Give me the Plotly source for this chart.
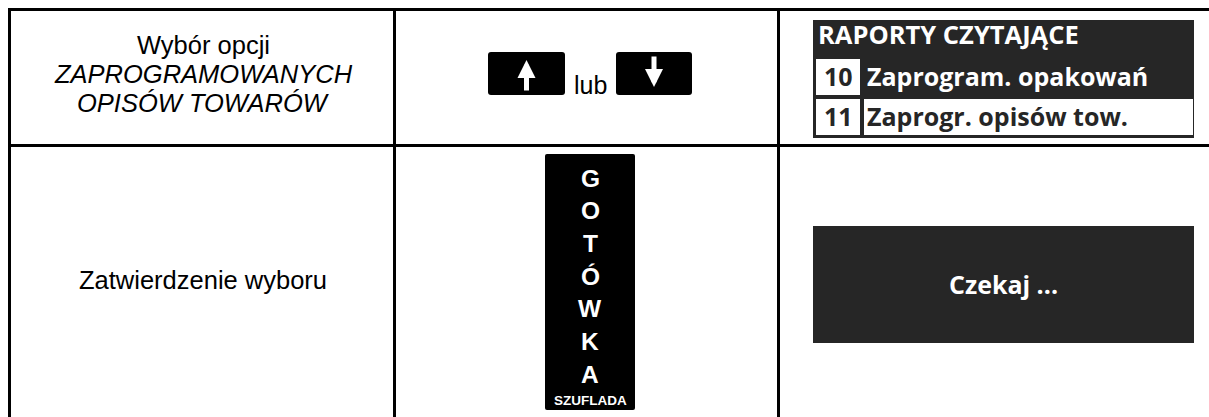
import plotly.graph_objects as go

W, H = 1209, 417

# ---- content -------------------------------------------------------------
step1_lines = ["Wybór opcji", "ZAPROGRAMOWANYCH", "OPISÓW TOWARÓW"]
step1_italic = [False, True, True]
step2_label = "Zatwierdzenie wyboru"
key_connector = "lub"
key_arrows = ["up", "down"]
cash_letters = ["G", "O", "T", "Ó", "W", "K", "A"]
cash_caption = "SZUFLADA"
lcd_title = "RAPORTY CZYTAJĄCE"
lcd_numbers = ["10", "11"]
lcd_items = ["Zaprogram. opakowań", "Zaprogr. opisów tow."]
lcd_selected = [False, True]
lcd_wait = "Czekaj ..."

# ---- layout geometry (pixels) -------------------------------------------
COLS = [9.5, 394.5, 778.5]
ROWS = [9.5, 145.5]
LINE_W = 3
LCD_BG = "#262626"
BODY_FONT = "Liberation Sans, Arial, sans-serif"
NARROW_FONT = "Liberation Sans Narrow, Arial Narrow, Liberation Sans, sans-serif"
LCD_FONT = "Open Sans, Noto Sans, sans-serif"

shapes = []
annotations = []


def rrect(x0, y0, x1, y1, r, color):
    path = (f"M{x0+r},{y0} L{x1-r},{y0} Q{x1},{y0} {x1},{y0+r} "
            f"L{x1},{y1-r} Q{x1},{y1} {x1-r},{y1} L{x0+r},{y1} "
            f"Q{x0},{y1} {x0},{y1-r} L{x0},{y0+r} Q{x0},{y0} {x0+r},{y0} Z")
    shapes.append(dict(type="path", path=path, xref="x", yref="y",
                       fillcolor=color, line=dict(width=0), layer="above"))


def rect(x0, y0, x1, y1, color):
    shapes.append(dict(type="rect", x0=x0, y0=y0, x1=x1, y1=y1, xref="x", yref="y",
                       fillcolor=color, line=dict(width=0), layer="above"))


def text(x, y, s, size, color="#000", family=BODY_FONT, xanchor="center", bold=False, italic=False):
    if bold:
        s = f"<b>{s}</b>"
    if italic:
        s = f"<i>{s}</i>"
    annotations.append(dict(x=x, y=y, xref="x", yref="y", text=s, showarrow=False,
                            xanchor=xanchor, yanchor="middle",
                            font=dict(size=size, color=color, family=family)))


# table grid
for cx in COLS:
    shapes.append(dict(type="line", x0=cx, x1=cx, y0=ROWS[0] - 1.5, y1=H + 5, xref="x", yref="y",
                       line=dict(color="#000", width=LINE_W), layer="above"))
for ry in ROWS:
    shapes.append(dict(type="line", x0=COLS[0] - 1.5, x1=W + 5, y0=ry, y1=ry, xref="x", yref="y",
                       line=dict(color="#000", width=LINE_W), layer="above"))

# column 1 texts
c1 = (COLS[0] + COLS[1]) / 2 + 1
for i, (ln, it) in enumerate(zip(step1_lines, step1_italic)):
    text(c1, 45 + i * 29, ln, 25.5, italic=it)
text(c1, 280, step2_label, 25.5)

# column 2 : arrow keys
key_boxes = [(488, 52, 565, 95), (616, 52, 692, 95)]
for (x0, y0, x1, y1), d in zip(key_boxes, key_arrows):
    rrect(x0, y0, x1, y1, 3, "#000")
    xm = (x0 + x1) / 2
    tip, tail = (y0 + 8, y1 - 3) if d == "up" else (y1 - 8, y0 + 3)
    annotations.append(dict(x=xm, y=tip, ax=xm, ay=tail, xref="x", yref="y", axref="x", ayref="y",
                            text="", showarrow=True, arrowhead=2, arrowsize=0.72, arrowwidth=5,
                            arrowcolor="white"))
text(590, 85, key_connector, 25)

# cash key
rrect(545, 154, 635, 410, 2, "#000")
for i, L in enumerate(cash_letters):
    text(590, 178 + i * 32.7, L, 24.5, color="white", bold=True)
text(590, 400, cash_caption, 13.5, color="white", family=NARROW_FONT, bold=True)

# column 3 : LCD screens
rect(813, 20, 1194, 138, LCD_BG)
text(816, 34, lcd_title, 25.5, color="white", family=LCD_FONT, bold=True, xanchor="left")
row_tops = [59, 99]
for num, item, sel, top in zip(lcd_numbers, lcd_items, lcd_selected, row_tops):
    rect(816, top, 860, top + 36, "white")
    if sel:
        rect(864, top, 1193, top + 36, "white")
    fg = LCD_BG if sel else "white"
    ym = top + 17
    text(838, ym, num, 25, color=LCD_BG, family=LCD_FONT, bold=True)
    text(865, ym, item, 25, color=fg, family=LCD_FONT, bold=True, xanchor="left")

rect(813, 226, 1194, 343, LCD_BG)
text(1003, 284, lcd_wait, 25, color="white", family=LCD_FONT, bold=True)

fig = go.Figure()
fig.update_layout(
    width=W, height=H, margin=dict(l=0, r=0, t=0, b=0),
    paper_bgcolor="white", plot_bgcolor="white",
    xaxis=dict(range=[0, W], visible=False, fixedrange=True),
    yaxis=dict(range=[H, 0], visible=False, fixedrange=True),
    shapes=shapes, annotations=annotations, showlegend=False,
)
fig.write_html("out.html", config={"displayModeBar": False},
               post_script="document.body.style.margin='0px';document.body.style.overflow='hidden';")
